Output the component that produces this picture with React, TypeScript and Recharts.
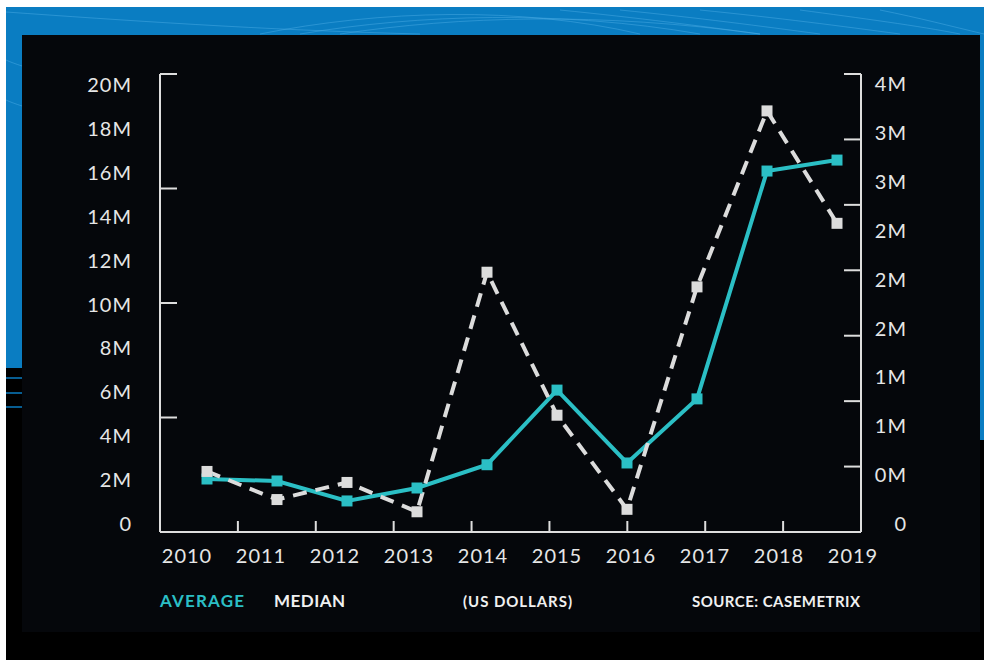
import { Line, LineChart, XAxis, YAxis } from 'recharts';

// values in millions of US dollars
const years = ['2010', '2011', '2012', '2013', '2014', '2015', '2016', '2017', '2018', '2019'];
const averageValues = [2.05, 1.96, 1.05, 1.64, 2.7, 6.1, 2.78, 5.7, 16.08, 16.58];
const medianValues = [0.43, 0.2, 0.34, 0.1, 2.06, 0.89, 0.12, 1.94, 3.38, 2.46];

const leftLabelTicks = [0, 2, 4, 6, 8, 10, 12, 14, 16, 18, 20];
const rightLabelTicks = [0, 0.4, 0.8, 1.2, 1.6, 2, 2.4, 2.8, 3.2, 3.6];
const yearLabelSlots = [0, 1, 2, 3, 4, 5, 6, 7, 8, 9];

// frame tick marks (the axes carry their own ticks, not aligned with labels)
const leftFrameTicks = [0, 1, 2, 3, 4];
const rightFrameTicks = [0, 1, 2, 3, 4, 5, 6, 7];
const bottomFrameTicks = [1, 2, 3, 4, 5, 6, 7, 8, 9];

const data = years.map((year, i) => ({ year, average: averageValues[i], median: medianValues[i] }));

const TEAL = '#2bbfc5';
const GREY = '#dcdcdc';
const AXIS = '#dedede';
const TEXT = '#e6e6e6';
const THIN = 0.001; // axes need a non-zero size to render

const tickStyle = { fill: TEXT, fontSize: 20, fontFamily: 'Lato', style: { letterSpacing: '1px' } };

const noLabel = () => <g />;

function squareDot(color: string) {
  return (props: any) => {
    const { cx, cy, index } = props;
    if (cx == null || cy == null) return null;
    return <rect key={index} x={cx - 5.5} y={cy - 5.5} width={11} height={11} fill={color} />;
  };
}

function Background() {
  return (
    <svg width={984} height={660} style={{ position: 'absolute', left: 0, top: 0 }}>
      <rect width={984} height={660} fill="#ffffff" />
      <rect x={6} y={7} width={978} height={653} fill="#000000" />
      <rect x={6} y={7} width={978} height={361} fill="#0a7dc2" />
      <rect x={978} y={360} width={6} height={80} fill="#0a7dc2" />
      <line x1={6} x2={22} y1={378} y2={378} stroke="#0a7dc2" strokeWidth={1.5} />
      <line x1={6} x2={22} y1={393} y2={393} stroke="#0a7dc2" strokeWidth={1.5} />
      <line x1={6} x2={22} y1={407} y2={407} stroke="#0a7dc2" strokeWidth={1.5} />
      <g stroke="#4fb0e6" strokeOpacity={0.45} fill="none" strokeWidth={1}>
        <path d="M6 12 C 120 20, 260 30, 420 34" />
        <path d="M260 34 C 380 10, 520 6, 640 34" />
        <path d="M300 34 C 420 14, 560 10, 700 34" />
        <path d="M340 34 C 460 16, 600 12, 760 34" />
        <path d="M560 10 C 640 18, 700 26, 760 34" />
        <path d="M620 10 C 700 18, 760 26, 820 34" />
        <path d="M700 10 C 780 18, 840 26, 900 34" />
        <path d="M800 10 C 860 18, 920 26, 960 34" />
        <path d="M880 10 C 920 18, 950 26, 984 34" />
        <path d="M6 60 C 10 62, 16 64, 22 66" />
        <path d="M6 100 C 10 102, 16 104, 22 106" />
      </g>
      <rect x={22} y={35} width={958} height={597} fill="#05070b" />
    </svg>
  );
}

export default function App() {
  return (
    <div
      style={{
        position: 'fixed',
        left: 0,
        top: 0,
        width: 984,
        height: 660,
        fontFamily: 'Lato',
        overflow: 'hidden',
      }}
    >
      <Background />
      <div style={{ position: 'absolute', left: 0, top: 0 }}>
        <LineChart width={984} height={660} data={data} margin={{ top: 74, right: 123, bottom: 128, left: 160 }}>
          {/* point positions */}
          <XAxis xAxisId="pts" dataKey="year" hide padding={{ left: 47, right: 24 }} />
          {/* bottom frame with inward ticks */}
          <XAxis
            xAxisId="frame"
            type="number"
            domain={[0, 10]}
            allowDataOverflow
            ticks={bottomFrameTicks}
            interval={0}
            height={THIN}
            mirror
            tickSize={11}
            tick={noLabel}
            axisLine={{ stroke: AXIS, strokeWidth: 2 }}
            tickLine={{ stroke: AXIS, strokeWidth: 2 }}
          />
          {/* year labels */}
          <XAxis
            xAxisId="labels"
            type="number"
            domain={[0, 9]}
            allowDataOverflow
            ticks={yearLabelSlots}
            interval={0}
            height={THIN}
            padding={{ left: 27, right: 8 }}
            axisLine={false}
            tickLine={false}
            tickSize={0}
            tickMargin={17}
            tick={tickStyle}
            tickFormatter={(v: number) => years[v]}
          />
          {/* left frame */}
          <YAxis
            yAxisId="leftFrame"
            type="number"
            domain={[0, 4]}
            allowDataOverflow
            ticks={leftFrameTicks}
            interval={0}
            width={THIN}
            mirror
            tickSize={17}
            tick={noLabel}
            axisLine={{ stroke: AXIS, strokeWidth: 2 }}
            tickLine={{ stroke: AXIS, strokeWidth: 2 }}
          />
          {/* left labels / average scale */}
          <YAxis
            yAxisId="avg"
            type="number"
            domain={[0, 20]}
            allowDataOverflow
            ticks={leftLabelTicks}
            interval={0}
            width={THIN}
            padding={{ top: 11, bottom: 8 }}
            axisLine={false}
            tickLine={false}
            tickSize={0}
            tickMargin={28}
            tick={tickStyle}
            tickFormatter={(v: number) => (v === 0 ? '0' : `${v}M`)}
          />
          {/* right frame */}
          <YAxis
            yAxisId="rightFrame"
            orientation="right"
            type="number"
            domain={[0, 7]}
            allowDataOverflow
            ticks={rightFrameTicks}
            interval={0}
            width={THIN}
            mirror
            tickSize={17}
            tick={noLabel}
            axisLine={{ stroke: AXIS, strokeWidth: 2 }}
            tickLine={{ stroke: AXIS, strokeWidth: 2 }}
          />
          {/* right labels / median scale */}
          <YAxis
            yAxisId="med"
            orientation="right"
            type="number"
            domain={[0, 3.6]}
            allowDataOverflow
            ticks={rightLabelTicks}
            interval={0}
            width={THIN}
            padding={{ top: 10, bottom: 8 }}
            axisLine={false}
            tickLine={false}
            tickSize={0}
            tickMargin={46}
            tick={{ ...tickStyle, textAnchor: 'end' }}
            tickFormatter={(v: number) => (v === 0 ? '0' : `${Math.round(v)}M`)}
          />
          <Line
            xAxisId="pts"
            yAxisId="avg"
            dataKey="average"
            type="linear"
            stroke={TEAL}
            strokeWidth={4}
            dot={squareDot(TEAL)}
            activeDot={false}
            isAnimationActive={false}
          />
          <Line
            xAxisId="pts"
            yAxisId="med"
            dataKey="median"
            type="linear"
            stroke={GREY}
            strokeWidth={4}
            strokeDasharray="14 9"
            dot={squareDot(GREY)}
            activeDot={false}
            isAnimationActive={false}
          />
        </LineChart>
      </div>
      <svg width={984} height={660} style={{ position: 'absolute', left: 0, top: 0, pointerEvents: 'none' }}>
        <g fontFamily="Lato" fontWeight={700} fontSize={17}>
          <text x={160} y={607} fill={TEAL} textLength={84} lengthAdjust="spacing">AVERAGE</text>
          <text x={274} y={607} fill="#f0f0f0" textLength={71} lengthAdjust="spacing">MEDIAN</text>
          <text x={463} y={607} fill="#f0f0f0" fontSize={15} textLength={109} lengthAdjust="spacing">(US DOLLARS)</text>
          <text x={692} y={607} fill="#f0f0f0" fontSize={15} textLength={168} lengthAdjust="spacing">SOURCE: CASEMETRIX</text>
        </g>
      </svg>
    </div>
  );
}
